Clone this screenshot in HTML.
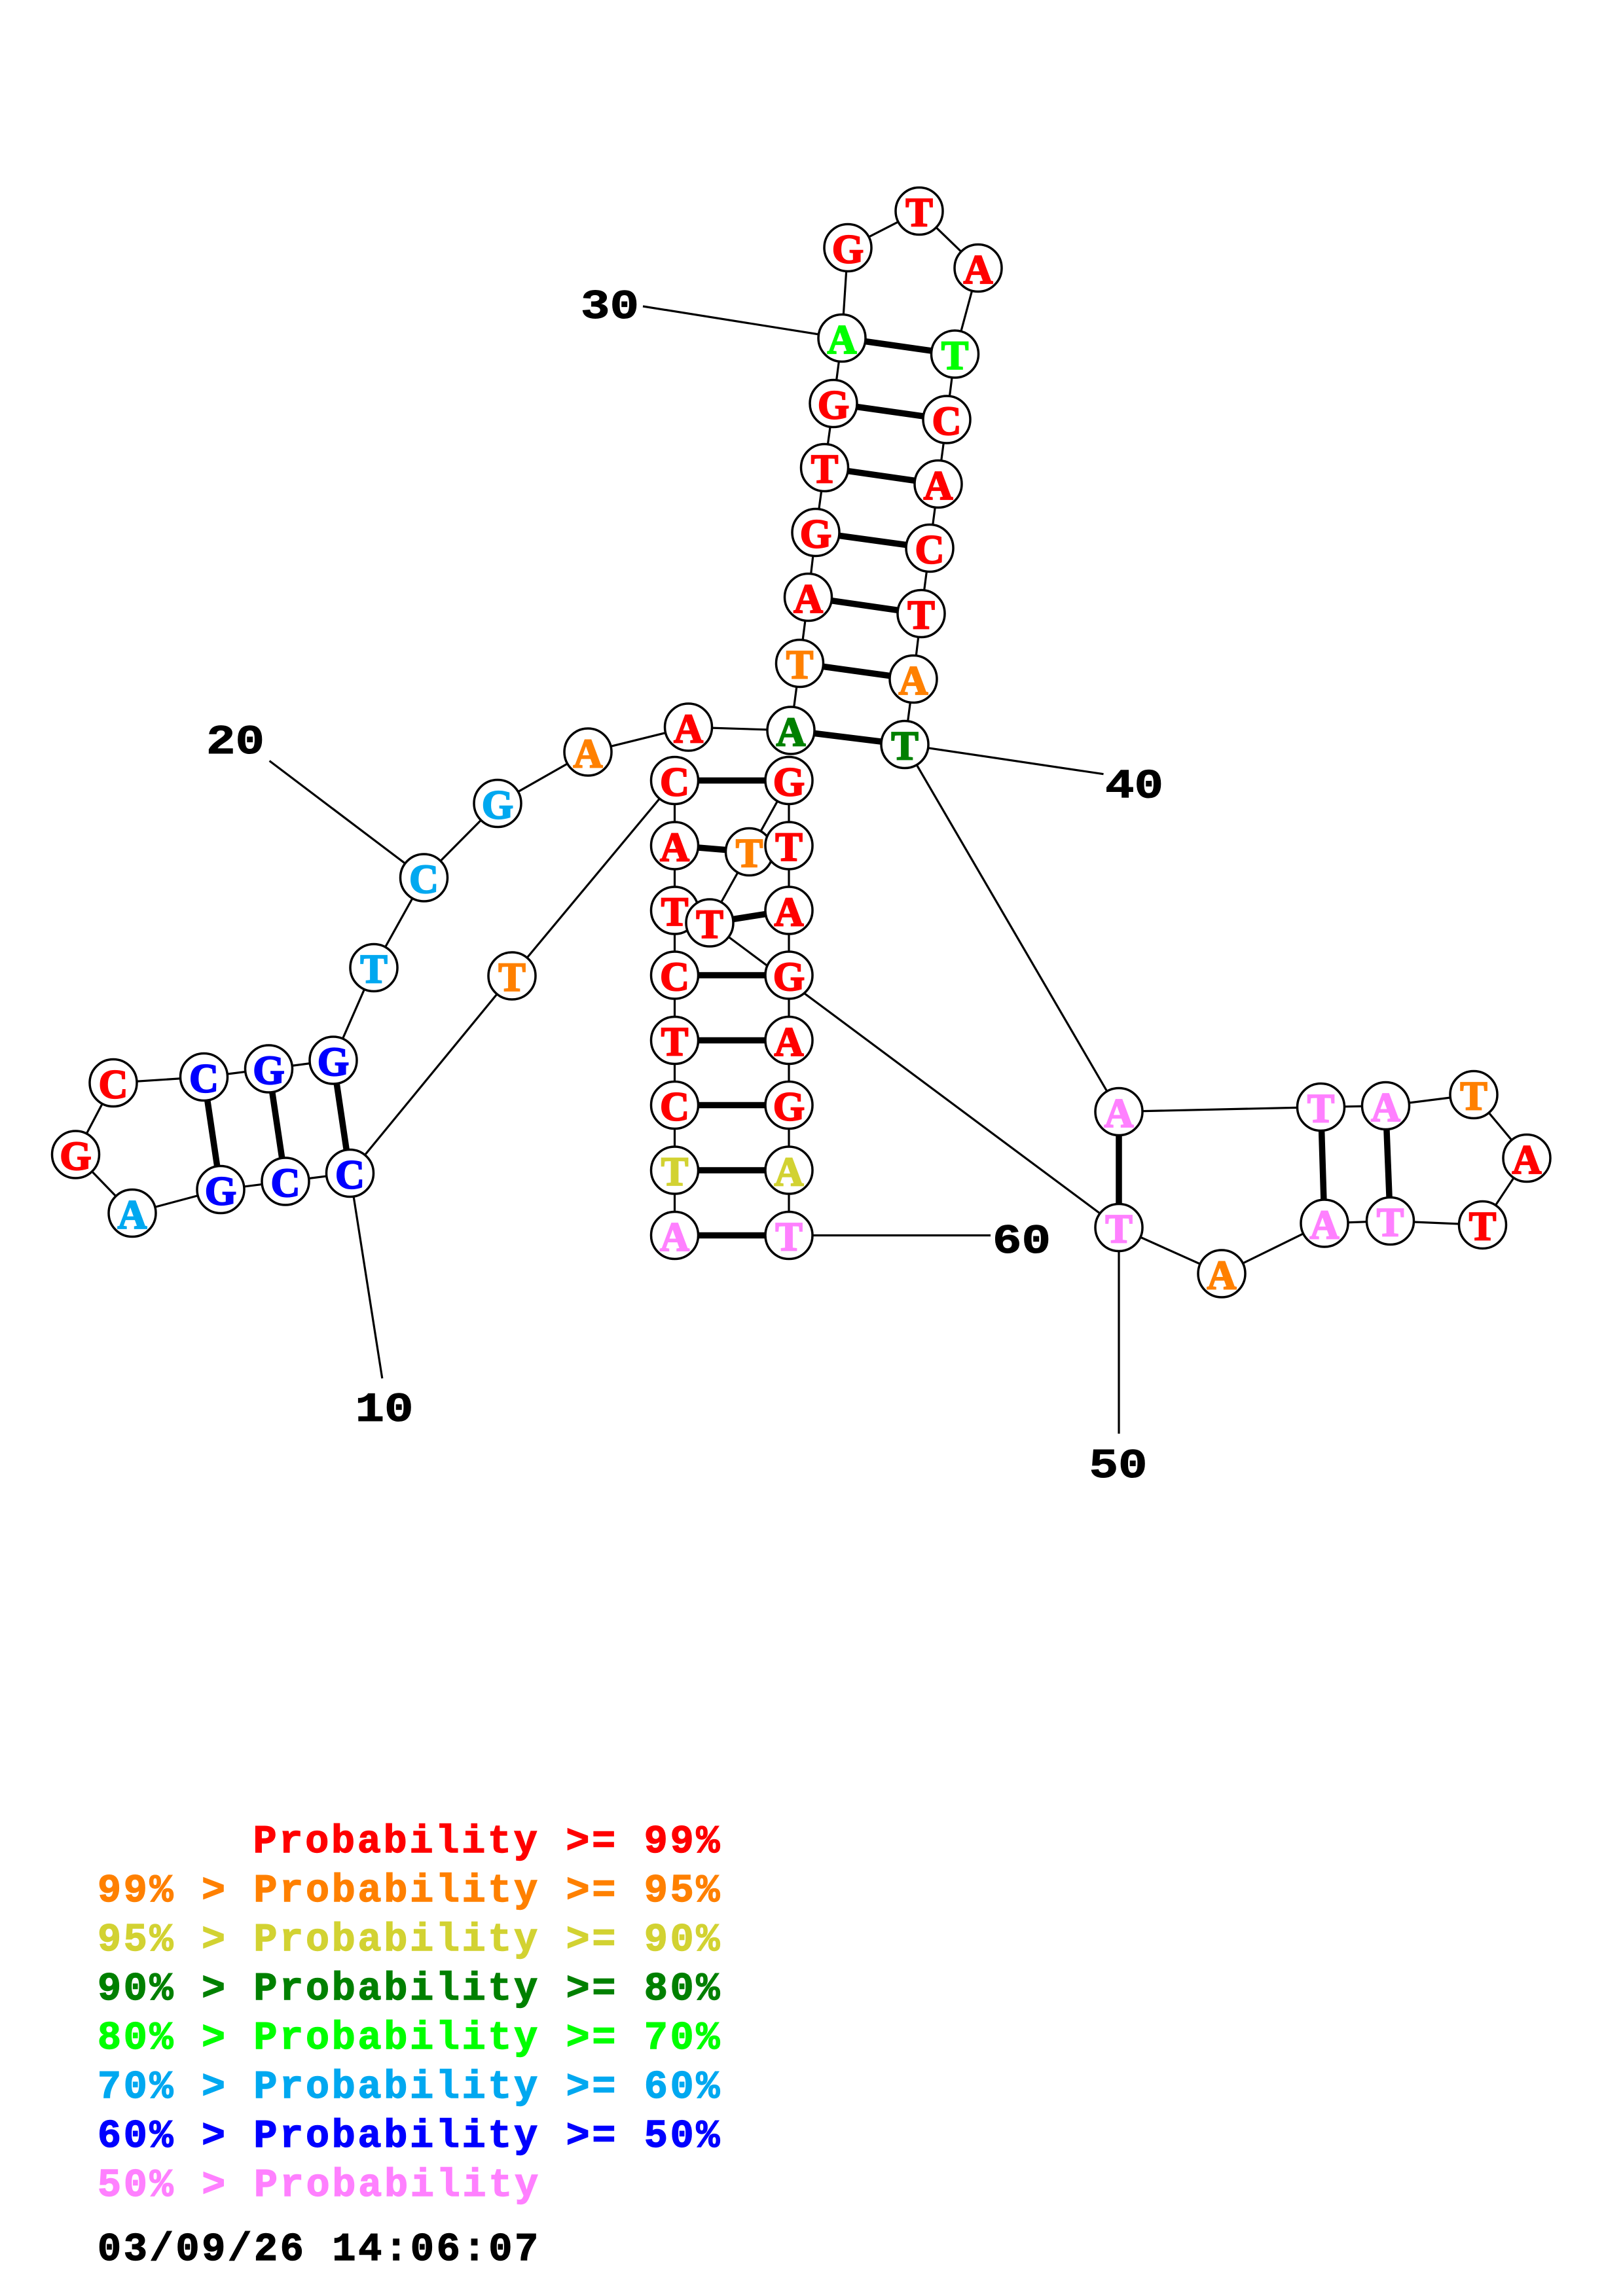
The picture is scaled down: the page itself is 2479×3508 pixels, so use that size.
<!DOCTYPE html>
<html><head><meta charset="utf-8"><style>
html,body{margin:0;padding:0;background:#fff;}
svg{display:block;}
.n{font-family:"Liberation Serif",serif;font-weight:bold;font-size:62px;text-anchor:middle;stroke-width:2.2px;}
.lb{font-family:"Liberation Mono",monospace;font-weight:bold;font-size:63px;text-anchor:middle;fill:#000;stroke:#000;stroke-width:1px;}
.lg{font-family:"Liberation Mono",monospace;font-weight:bold;font-size:60px;stroke-width:1.4px;}
circle{fill:#fff;stroke:#000;stroke-width:3.5;}
.r{fill:#ff0000;stroke:#ff0000}.o{fill:#ff8000;stroke:#ff8000}.y{fill:#d2d232;stroke:#d2d232}.dg{fill:#008000;stroke:#008000}.g{fill:#00ff00;stroke:#00ff00}.lb2{fill:#00a8f0;stroke:#00a8f0}.b{fill:#0000ff;stroke:#0000ff}.p{fill:#ff80ff;stroke:#ff80ff}.k{fill:#000;stroke:#000}
</style></head><body>
<svg width="2479" height="3508" viewBox="0 0 2479 3508" xmlns="http://www.w3.org/2000/svg">
<rect x="0" y="0" width="2479" height="3508" fill="#fff"/>
<!-- backbone -->
<polyline fill="none" stroke="#000" stroke-width="3.2" points="1030.5,1887.5 1030.5,1788 1030.5,1688.5 1030.5,1589.5 1030.5,1490 1030.5,1391 1030.5,1292 1030.5,1192.5 782,1491 534.5,1792.5 436,1805 337,1817.5 202,1853.5 115.5,1764 173,1654.5 311.5,1645.5 410.5,1633 509,1620 571,1478.5 647.5,1341 760,1227.5 898,1149 1051.5,1111 1208,1116 1221.5,1013.5 1234.5,912.5 1246,813.5 1259.5,714.5 1273,616.5 1286,516.5 1295,378.5 1404,322.5 1494,409.5 1458.5,541 1446,641 1433,739.5 1420,837.5 1407,937.5 1395,1037.5 1382,1137.5 1709,1698.5 2017.5,1691.5 2116.5,1689.5 2251,1672.5 2332,1769.5 2264.5,1871.5 2123.5,1865.5 2023,1869 1866,1946 1709,1875.5 1084,1410 1144.5,1301.5 1205,1192.5 1205,1292 1205,1391 1205,1490 1205,1589.5 1205,1688.5 1205,1788 1205,1887.5"/>
<!-- label lines -->
<g stroke="#000" stroke-width="3.2">
<line x1="982" y1="468" x2="1286" y2="516.5"/>
<line x1="411.6" y1="1162.5" x2="647.5" y2="1341"/>
<line x1="534.5" y1="1792.5" x2="583.8" y2="2106"/>
<line x1="1382" y1="1137.5" x2="1685.5" y2="1182.7"/>
<line x1="1709" y1="1875.5" x2="1709" y2="2190.5"/>
<line x1="1205" y1="1887.5" x2="1513" y2="1887.5"/>
</g>
<!-- pairs -->
<g stroke="#000" stroke-width="9.5">
<line x1="1030.5" y1="1192.5" x2="1205" y2="1192.5"/>
<line x1="1030.5" y1="1292" x2="1144.5" y2="1301.5"/>
<line x1="1084" y1="1410" x2="1205" y2="1391"/>
<line x1="1030.5" y1="1490" x2="1205" y2="1490"/>
<line x1="1030.5" y1="1589.5" x2="1205" y2="1589.5"/>
<line x1="1030.5" y1="1688.5" x2="1205" y2="1688.5"/>
<line x1="1030.5" y1="1788" x2="1205" y2="1788"/>
<line x1="1030.5" y1="1887.5" x2="1205" y2="1887.5"/>
<line x1="1208" y1="1116" x2="1382" y2="1137.5"/>
<line x1="1221.5" y1="1013.5" x2="1395" y2="1037.5"/>
<line x1="1234.5" y1="912.5" x2="1407" y2="937.5"/>
<line x1="1246" y1="813.5" x2="1420" y2="837.5"/>
<line x1="1259.5" y1="714.5" x2="1433" y2="739.5"/>
<line x1="1273" y1="616.5" x2="1446" y2="641"/>
<line x1="1286" y1="516.5" x2="1458.5" y2="541"/>
<line x1="509" y1="1620" x2="534.5" y2="1792.5"/>
<line x1="410.5" y1="1633" x2="436" y2="1805"/>
<line x1="311.5" y1="1645.5" x2="337" y2="1817.5"/>
<line x1="1709" y1="1698.5" x2="1709" y2="1875.5"/>
<line x1="2017.5" y1="1691.5" x2="2023" y2="1869"/>
<line x1="2116.5" y1="1689.5" x2="2123.5" y2="1865.5"/>
</g>
<!-- nodes -->
<circle cx="1030.5" cy="1887.5" r="36"/><text class="n p" x="1030.5" y="1910.5">A</text>
<circle cx="1030.5" cy="1788" r="36"/><text class="n y" x="1030.5" y="1811">T</text>
<circle cx="1030.5" cy="1688.5" r="36"/><text class="n r" x="1030.5" y="1711.5">C</text>
<circle cx="1030.5" cy="1589.5" r="36"/><text class="n r" x="1030.5" y="1612.5">T</text>
<circle cx="1030.5" cy="1490" r="36"/><text class="n r" x="1030.5" y="1513">C</text>
<circle cx="1030.5" cy="1391" r="36"/><text class="n r" x="1030.5" y="1414">T</text>
<circle cx="1030.5" cy="1292" r="36"/><text class="n r" x="1030.5" y="1315">A</text>
<circle cx="1030.5" cy="1192.5" r="36"/><text class="n r" x="1030.5" y="1215.5">C</text>
<circle cx="782" cy="1491" r="36"/><text class="n o" x="782" y="1514">T</text>
<circle cx="534.5" cy="1792.5" r="36"/><text class="n b" x="534.5" y="1815.5">C</text>
<circle cx="436" cy="1805" r="36"/><text class="n b" x="436" y="1828">C</text>
<circle cx="337" cy="1817.5" r="36"/><text class="n b" x="337" y="1840.5">G</text>
<circle cx="202" cy="1853.5" r="36"/><text class="n lb2" x="202" y="1876.5">A</text>
<circle cx="115.5" cy="1764" r="36"/><text class="n r" x="115.5" y="1787">G</text>
<circle cx="173" cy="1654.5" r="36"/><text class="n r" x="173" y="1677.5">C</text>
<circle cx="311.5" cy="1645.5" r="36"/><text class="n b" x="311.5" y="1668.5">C</text>
<circle cx="410.5" cy="1633" r="36"/><text class="n b" x="410.5" y="1656">G</text>
<circle cx="509" cy="1620" r="36"/><text class="n b" x="509" y="1643">G</text>
<circle cx="571" cy="1478.5" r="36"/><text class="n lb2" x="571" y="1501.5">T</text>
<circle cx="647.5" cy="1341" r="36"/><text class="n lb2" x="647.5" y="1364">C</text>
<circle cx="760" cy="1227.5" r="36"/><text class="n lb2" x="760" y="1250.5">G</text>
<circle cx="898" cy="1149" r="36"/><text class="n o" x="898" y="1172">A</text>
<circle cx="1051.5" cy="1111" r="36"/><text class="n r" x="1051.5" y="1134">A</text>
<circle cx="1208" cy="1116" r="36"/><text class="n dg" x="1208" y="1139">A</text>
<circle cx="1221.5" cy="1013.5" r="36"/><text class="n o" x="1221.5" y="1036.5">T</text>
<circle cx="1234.5" cy="912.5" r="36"/><text class="n r" x="1234.5" y="935.5">A</text>
<circle cx="1246" cy="813.5" r="36"/><text class="n r" x="1246" y="836.5">G</text>
<circle cx="1259.5" cy="714.5" r="36"/><text class="n r" x="1259.5" y="737.5">T</text>
<circle cx="1273" cy="616.5" r="36"/><text class="n r" x="1273" y="639.5">G</text>
<circle cx="1286" cy="516.5" r="36"/><text class="n g" x="1286" y="539.5">A</text>
<circle cx="1295" cy="378.5" r="36"/><text class="n r" x="1295" y="401.5">G</text>
<circle cx="1404" cy="322.5" r="36"/><text class="n r" x="1404" y="345.5">T</text>
<circle cx="1494" cy="409.5" r="36"/><text class="n r" x="1494" y="432.5">A</text>
<circle cx="1458.5" cy="541" r="36"/><text class="n g" x="1458.5" y="564">T</text>
<circle cx="1446" cy="641" r="36"/><text class="n r" x="1446" y="664">C</text>
<circle cx="1433" cy="739.5" r="36"/><text class="n r" x="1433" y="762.5">A</text>
<circle cx="1420" cy="837.5" r="36"/><text class="n r" x="1420" y="860.5">C</text>
<circle cx="1407" cy="937.5" r="36"/><text class="n r" x="1407" y="960.5">T</text>
<circle cx="1395" cy="1037.5" r="36"/><text class="n o" x="1395" y="1060.5">A</text>
<circle cx="1382" cy="1137.5" r="36"/><text class="n dg" x="1382" y="1160.5">T</text>
<circle cx="1709" cy="1698.5" r="36"/><text class="n p" x="1709" y="1721.5">A</text>
<circle cx="2017.5" cy="1691.5" r="36"/><text class="n p" x="2017.5" y="1714.5">T</text>
<circle cx="2116.5" cy="1689.5" r="36"/><text class="n p" x="2116.5" y="1712.5">A</text>
<circle cx="2251" cy="1672.5" r="36"/><text class="n o" x="2251" y="1695.5">T</text>
<circle cx="2332" cy="1769.5" r="36"/><text class="n r" x="2332" y="1792.5">A</text>
<circle cx="2264.5" cy="1871.5" r="36"/><text class="n r" x="2264.5" y="1894.5">T</text>
<circle cx="2123.5" cy="1865.5" r="36"/><text class="n p" x="2123.5" y="1888.5">T</text>
<circle cx="2023" cy="1869" r="36"/><text class="n p" x="2023" y="1892">A</text>
<circle cx="1866" cy="1946" r="36"/><text class="n o" x="1866" y="1969">A</text>
<circle cx="1709" cy="1875.5" r="36"/><text class="n p" x="1709" y="1898.5">T</text>
<circle cx="1084" cy="1410" r="36"/><text class="n r" x="1084" y="1433">T</text>
<circle cx="1144.5" cy="1301.5" r="36"/><text class="n o" x="1144.5" y="1324.5">T</text>
<circle cx="1205" cy="1192.5" r="36"/><text class="n r" x="1205" y="1215.5">G</text>
<circle cx="1205" cy="1292" r="36"/><text class="n r" x="1205" y="1315">T</text>
<circle cx="1205" cy="1391" r="36"/><text class="n r" x="1205" y="1414">A</text>
<circle cx="1205" cy="1490" r="36"/><text class="n r" x="1205" y="1513">G</text>
<circle cx="1205" cy="1589.5" r="36"/><text class="n r" x="1205" y="1612.5">A</text>
<circle cx="1205" cy="1688.5" r="36"/><text class="n r" x="1205" y="1711.5">G</text>
<circle cx="1205" cy="1788" r="36"/><text class="n y" x="1205" y="1811">A</text>
<circle cx="1205" cy="1887.5" r="36"/><text class="n p" x="1205" y="1910.5">T</text>
<!-- number labels -->
<text class="lb" x="931.5" y="486" textLength="89" lengthAdjust="spacingAndGlyphs">30</text>
<text class="lb" x="359.5" y="1151" textLength="89" lengthAdjust="spacingAndGlyphs">20</text>
<text class="lb" x="587" y="2171" textLength="89" lengthAdjust="spacingAndGlyphs">10</text>
<text class="lb" x="1732.5" y="1218.5" textLength="89" lengthAdjust="spacingAndGlyphs">40</text>
<text class="lb" x="1708" y="2257" textLength="89" lengthAdjust="spacingAndGlyphs">50</text>
<text class="lb" x="1560.5" y="1914" textLength="89" lengthAdjust="spacingAndGlyphs">60</text>
<!-- legend -->
<text class="lg r" x="386.6" y="2830" textLength="712.8">Probability &gt;= 99%</text>
<text class="lg o" x="149" y="2905" textLength="950.4">99% &gt; Probability &gt;= 95%</text>
<text class="lg y" x="149" y="2980" textLength="950.4">95% &gt; Probability &gt;= 90%</text>
<text class="lg dg" x="149" y="3055" textLength="950.4">90% &gt; Probability &gt;= 80%</text>
<text class="lg g" x="149" y="3130" textLength="950.4">80% &gt; Probability &gt;= 70%</text>
<text class="lg lb2" x="149" y="3205" textLength="950.4">70% &gt; Probability &gt;= 60%</text>
<text class="lg b" x="149" y="3280" textLength="950.4">60% &gt; Probability &gt;= 50%</text>
<text class="lg p" x="149" y="3355" textLength="673.2">50% &gt; Probability</text>
<text class="lg k" x="149" y="3453" textLength="673.2">03/09/26 14:06:07</text>
</svg>
</body></html>
